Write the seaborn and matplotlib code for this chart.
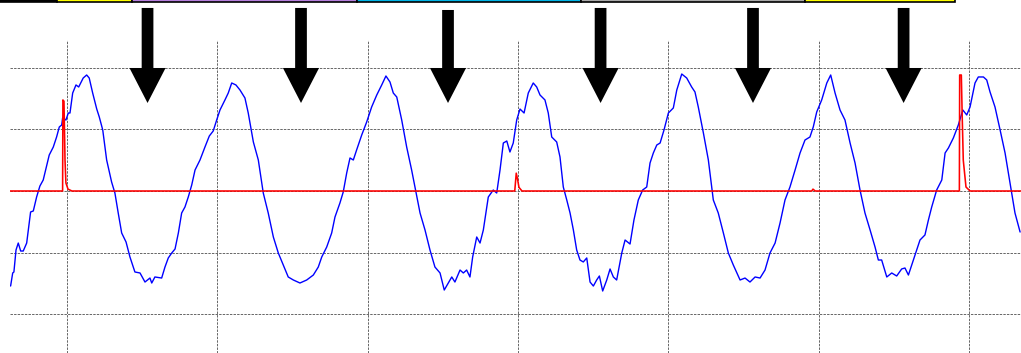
import numpy as np
import pandas as pd
import matplotlib
matplotlib.use("Agg")
import matplotlib.pyplot as plt
from matplotlib.patches import Rectangle
import seaborn as sns

# --- Data (time in grid periods, signal in grid units) ---
blue_t = [-0.375, -0.361, -0.353, -0.339, -0.324, -0.308, -0.291, -0.268, -0.242, -0.224,
          -0.202, -0.180, -0.158, -0.118, -0.091, -0.069, -0.051, -0.035, -0.029, -0.007,
          0.009, 0.020, 0.038, 0.060, 0.078, 0.091, 0.108, 0.131, 0.148, 0.171,
          0.198, 0.215, 0.238, 0.264, 0.297, 0.319, 0.341, 0.364, 0.393, 0.419,
          0.452, 0.486, 0.519, 0.552, 0.564, 0.585, 0.630, 0.652, 0.674, 0.697,
          0.719, 0.741, 0.763, 0.785, 0.807, 0.830, 0.852, 0.885, 0.918, 0.947,
          0.973, 0.996, 1.018, 1.051, 1.073, 1.096, 1.124, 1.151, 1.184, 1.206,
          1.240, 1.273, 1.306, 1.339, 1.373, 1.406, 1.439, 1.472, 1.506, 1.550,
          1.595, 1.639, 1.672, 1.695, 1.728, 1.761, 1.783, 1.816, 1.838, 1.861,
          1.883, 1.905, 1.927, 1.961, 1.994, 2.027, 2.061, 2.094, 2.122, 2.149,
          2.171, 2.194, 2.227, 2.260, 2.293, 2.315, 2.349, 2.382, 2.415, 2.448,
          2.482, 2.510, 2.537, 2.560, 2.581, 2.615, 2.637, 2.659, 2.681, 2.699,
          2.726, 2.748, 2.770, 2.803, 2.836, 2.859, 2.881, 2.903, 2.926, 2.947,
          2.969, 2.992, 3.014, 3.041, 3.069, 3.102, 3.125, 3.147, 3.180, 3.202,
          3.225, 3.258, 3.280, 3.302, 3.325, 3.347, 3.369, 3.391, 3.413, 3.435,
          3.458, 3.480, 3.502, 3.524, 3.542, 3.564, 3.591, 3.613, 3.635, 3.657,
          3.691, 3.713, 3.746, 3.772, 3.801, 3.830, 3.857, 3.879, 3.901, 3.924,
          3.946, 3.972, 4.001, 4.034, 4.057, 4.090, 4.123, 4.156, 4.178, 4.200,
          4.234, 4.267, 4.300, 4.333, 4.367, 4.400, 4.433, 4.478, 4.511, 4.544,
          4.578, 4.611, 4.644, 4.677, 4.711, 4.744, 4.777, 4.810, 4.844, 4.877,
          4.910, 4.943, 4.965, 4.988, 5.021, 5.055, 5.081, 5.110, 5.143, 5.176,
          5.210, 5.243, 5.276, 5.309, 5.343, 5.376, 5.398, 5.420, 5.454, 5.487,
          5.520, 5.553, 5.575, 5.598, 5.631, 5.653, 5.675, 5.708, 5.731, 5.753,
          5.786, 5.820, 5.842, 5.864, 5.897, 5.930, 5.960, 5.986, 6.008, 6.041,
          6.063, 6.097, 6.119, 6.141, 6.174, 6.208, 6.241, 6.274, 6.307, 6.341]
blue_v = [-1.545, -1.333, -1.317, -0.959, -0.846, -0.976, -0.976, -0.846, -0.341, -0.325,
          -0.098, 0.081, 0.179, 0.585, 0.715, 0.878, 1.041, 1.073, 1.187, 1.154,
          1.268, 1.268, 1.593, 1.724, 1.691, 1.756, 1.837, 1.886, 1.837, 1.593,
          1.333, 1.203, 0.992, 0.504, 0.146, -0.033, -0.358, -0.683, -0.829, -1.073,
          -1.317, -1.333, -1.480, -1.415, -1.496, -1.398, -1.415, -1.236, -1.089, -1.008,
          -0.943, -0.683, -0.358, -0.260, -0.098, 0.098, 0.341, 0.504, 0.715, 0.894,
          0.976, 1.154, 1.317, 1.480, 1.593, 1.756, 1.724, 1.642, 1.512, 1.268,
          0.797, 0.504, -0.033, -0.358, -0.748, -1.008, -1.203, -1.398, -1.447, -1.496,
          -1.447, -1.366, -1.236, -1.073, -0.911, -0.683, -0.423, -0.195, -0.016, 0.293,
          0.537, 0.504, 0.667, 0.911, 1.122, 1.366, 1.561, 1.724, 1.870, 1.772,
          1.593, 1.528, 1.154, 0.715, 0.341, 0.065, -0.358, -0.634, -0.959, -1.236,
          -1.333, -1.610, -1.496, -1.398, -1.480, -1.285, -1.333, -1.285, -1.398, -1.073,
          -0.748, -0.846, -0.634, -0.098, 0.016, -0.033, 0.341, 0.780, 0.813, 0.634,
          0.780, 1.154, 1.333, 1.268, 1.593, 1.756, 1.691, 1.561, 1.480, 1.268,
          0.878, 0.797, 0.553, 0.065, -0.146, -0.358, -0.634, -0.959, -1.122, -1.154,
          -1.089, -1.480, -1.545, -1.447, -1.382, -1.626, -1.447, -1.268, -1.398, -1.447,
          -1.008, -0.797, -0.862, -0.472, -0.146, 0.016, 0.065, 0.455, 0.618, 0.748,
          0.780, 0.992, 1.268, 1.350, 1.642, 1.902, 1.837, 1.691, 1.610, 1.366,
          0.943, 0.504, -0.146, -0.358, -0.683, -1.008, -1.203, -1.447, -1.415, -1.480,
          -1.398, -1.415, -1.285, -1.008, -0.846, -0.520, -0.146, 0.065, 0.341, 0.618,
          0.829, 0.878, 1.041, 1.285, 1.480, 1.756, 1.886, 1.593, 1.317, 1.154,
          0.780, 0.455, 0.016, -0.358, -0.634, -0.911, -1.122, -1.122, -1.398, -1.333,
          -1.382, -1.268, -1.252, -1.366, -1.122, -0.959, -0.797, -0.715, -0.472, -0.260,
          0.016, 0.179, 0.618, 0.699, 0.862, 1.073, 1.317, 1.236, 1.366, 1.756,
          1.854, 1.854, 1.805, 1.610, 1.366, 0.992, 0.618, 0.130, -0.358, -0.667]

red_t = [-0.379, -0.029, -0.027, -0.020, -0.013, -0.007, 0.007, 0.033,
         2.979, 2.989, 2.997, 3.007, 3.027,
         4.955, 4.963, 4.978,
         5.937, 5.939, 5.950, 5.956, 5.963, 5.981, 6.008, 6.347]
red_v = [0.0, 0.0, 1.48, 1.46, 0.50, 0.13, 0.03, 0.0,
         0.0, 0.29, 0.20, 0.06, 0.0,
         0.0, 0.03, 0.0,
         0.0, 1.886, 1.886, 1.20, 0.50, 0.065, 0.0, 0.0]

# arrows: centre time, tail level, tip level
arrow_t = [0.536, 1.557, 2.535, 3.550, 4.564, 5.566]
arrow_top = [2.976, 2.976, 2.943, 2.976, 2.976, 2.976]
arrow_tip = 1.431

# coloured strip along the top
band_edges = [-0.446, -0.067, 0.432, 1.929, 3.420, 4.910, 5.908]
band_colors = ["black", "#ffff00", "#b57edc", "#00b4e6", "#a8a8a8", "#ffff00"]

# --- Plot ---
sns.set_style("white")
fig = plt.figure(figsize=(10.21, 3.53), dpi=100)
ax = fig.add_axes([10 / 1021, 0, 1011 / 1021, 313 / 353])

blue_df = pd.DataFrame({"t": blue_t, "v": blue_v})
red_df = pd.DataFrame({"t": red_t, "v": red_v})

sns.lineplot(data=blue_df, x="t", y="v", estimator=None, color="#0000ff", lw=1.0, ax=ax, zorder=3)
sns.lineplot(data=red_df, x="t", y="v", estimator=None, color="#ff0000", lw=1.15, ax=ax, zorder=4)

ax.set_xlim(-0.379, 6.347)
ax.set_ylim(-2.634, 2.455)
ax.set_xticks(range(7))
ax.set_yticks([-2, -1, 0, 1, 2])
ax.set_xticklabels([])
ax.set_yticklabels([])
ax.tick_params(length=0)
ax.set_xlabel("")
ax.set_ylabel("")
ax.grid(True, color="0.4", ls=(0, (2.5, 1.2)), lw=0.7)
for s in ax.spines.values():
    s.set_visible(False)

for t0, top in zip(arrow_t, arrow_top):
    ax.arrow(t0, top, 0, arrow_tip - top, width=0.078, head_width=0.24,
             head_length=0.569, length_includes_head=True, color="black",
             lw=0, clip_on=False, zorder=5)

for i, c in enumerate(band_colors):
    ax.add_patch(Rectangle((band_edges[i], 3.065), band_edges[i + 1] - band_edges[i], 1.0,
                           facecolor=c, edgecolor="black", lw=1.2, clip_on=False, zorder=6))

fig.savefig("out.png", dpi=100)
